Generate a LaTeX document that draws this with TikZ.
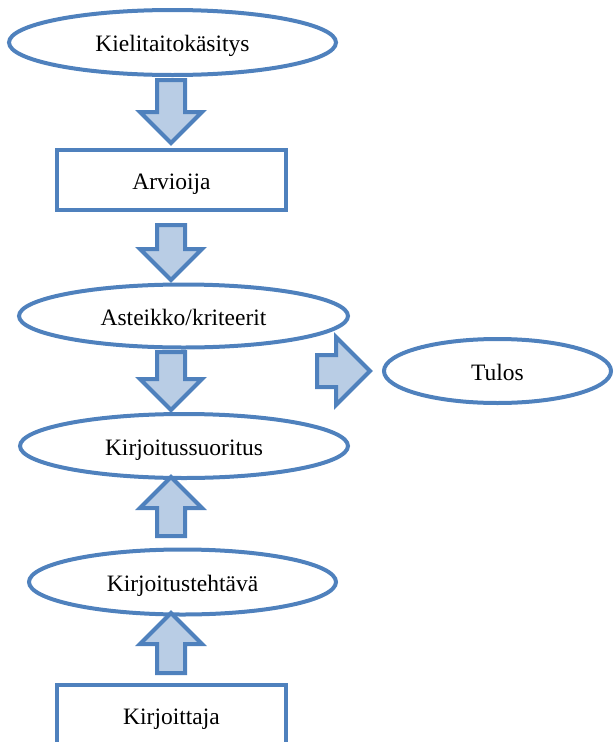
\documentclass[tikz,border=0pt]{standalone}
\usepackage{fontspec}
\setmainfont{Liberation Serif}
\usetikzlibrary{shapes.geometric,shapes.arrows}
\definecolor{rimblue}{RGB}{79,129,189}
\definecolor{fillblue}{RGB}{185,205,229}
\begin{document}
\begin{tikzpicture}[x=1pt,y=-1pt,
		every node/.style={font=\fontsize{23.5}{28}\selectfont,text height=18pt,text depth=0pt},
		oval/.style={ellipse,draw=rimblue,line width=4pt,inner sep=0pt},
		box/.style={rectangle,draw=rimblue,line width=4pt,inner sep=0pt,minimum width=229pt,minimum height=60pt,line join=miter},
		fat/.style={single arrow,draw=rimblue,fill=fillblue,line width=4pt,inner xsep=0pt,inner ysep=12pt,anchor=tail,
			text height=0pt,text depth=0pt,single arrow head extend=17pt,line join=miter}]
		\useasboundingbox (0,0) rectangle (614,742);
		
		\node[oval,minimum width=327pt,minimum height=65pt] (kasitys) at (172.5,42.5) {Kielitaitokäsitys};
		\node[box] (arvioija) at (171.5,180) {Arvioija};
		\node[oval,minimum width=329pt,minimum height=63pt] (asteikko) at (183.5,316) {Asteikko/kriteerit};
		\node[oval,minimum width=227pt,minimum height=64pt] (tulos) at (497.5,371) {Tulos};
		\node[oval,minimum width=328pt,minimum height=64pt] (suoritus) at (184,446) {Kirjoitussuoritus};
		\node[oval,minimum width=307pt,minimum height=65pt] (tehtava) at (182.5,582) {Kirjoitustehtävä};
		\node[box] (kirjoittaja) at (171.5,715) {Kirjoittaja};
		
		% block arrows, placed by their tails
		\node[fat,rotate=-90,minimum height=63pt] (a1) at (171,78) {};
		\node[fat,rotate=-90,minimum height=55pt] (a2) at (171,223) {};
		\node[fat,rotate=-90,minimum height=58pt] (a3) at (171,350) {};
		\node[fat,rotate=90,minimum height=59pt] (a4) at (171,538) {};
		\node[fat,rotate=90,minimum height=60pt] (a5) at (171,675) {};
		\node[fat,minimum height=53pt,inner ysep=14pt,single arrow head extend=18pt] (a6) at (315,371) {};
	\end{tikzpicture}
\end{document}
